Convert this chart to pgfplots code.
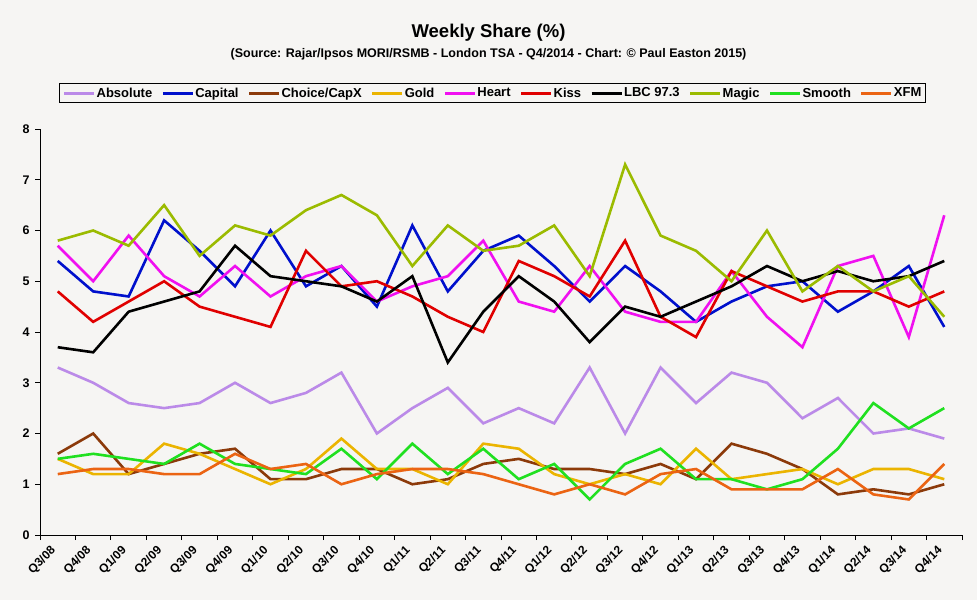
\documentclass[border=0pt]{standalone}
\usepackage{pgfplots}
\pgfplotsset{compat=1.18}
\usepackage{pgfplotstable}
\usepackage{fontspec}
\setmainfont{Liberation Sans}
\definecolor{bg}{HTML}{F6F5F3}
\definecolor{cAbs}{HTML}{BB8AE8}
\definecolor{cCap}{HTML}{0010CC}
\definecolor{cCho}{HTML}{8C3A0A}
\definecolor{cGold}{HTML}{EBB400}
\definecolor{cHeart}{HTML}{F010F0}
\definecolor{cKiss}{HTML}{E00000}
\definecolor{cLBC}{HTML}{000000}
\definecolor{cMagic}{HTML}{9BBB00}
\definecolor{cSmooth}{HTML}{20E020}
\definecolor{cXFM}{HTML}{EB6413}
\pgfplotstableread{
i Abs Cap Cho Gold Heart Kiss LBC Magic Smooth XFM
0 3.3 5.4 1.6 1.5 5.7 4.8 3.7 5.8 1.5 1.2
1 3.0 4.8 2.0 1.2 5.0 4.2 3.6 6.0 1.6 1.3
2 2.6 4.7 1.2 1.2 5.9 4.6 4.4 5.7 1.5 1.3
3 2.5 6.2 1.4 1.8 5.1 5.0 4.6 6.5 1.4 1.2
4 2.6 5.6 1.6 1.6 4.7 4.5 4.8 5.5 1.8 1.2
5 3.0 4.9 1.7 1.3 5.3 4.3 5.7 6.1 1.4 1.6
6 2.6 6.0 1.1 1.0 4.7 4.1 5.1 5.9 1.3 1.3
7 2.8 4.9 1.1 1.3 5.1 5.6 5.0 6.4 1.2 1.4
8 3.2 5.3 1.3 1.9 5.3 4.9 4.9 6.7 1.7 1.0
9 2.0 4.5 1.3 1.3 4.6 5.0 4.6 6.3 1.1 1.2
10 2.5 6.1 1.0 1.3 4.9 4.7 5.1 5.3 1.8 1.3
11 2.9 4.8 1.1 1.0 5.1 4.3 3.4 6.1 1.2 1.3
12 2.2 5.6 1.4 1.8 5.8 4.0 4.4 5.6 1.7 1.2
13 2.5 5.9 1.5 1.7 4.6 5.4 5.1 5.7 1.1 1.0
14 2.2 5.3 1.3 1.2 4.4 5.1 4.6 6.1 1.4 0.8
15 3.3 4.6 1.3 1.0 5.3 4.7 3.8 5.1 0.7 1.0
16 2.0 5.3 1.2 1.2 4.4 5.8 4.5 7.3 1.4 0.8
17 3.3 4.8 1.4 1.0 4.2 4.3 4.3 5.9 1.7 1.2
18 2.6 4.2 1.1 1.7 4.2 3.9 4.6 5.6 1.1 1.3
19 3.2 4.6 1.8 1.1 5.2 5.2 4.9 5.0 1.1 0.9
20 3.0 4.9 1.6 1.2 4.3 4.9 5.3 6.0 0.9 0.9
21 2.3 5.0 1.3 1.3 3.7 4.6 5.0 4.8 1.1 0.9
22 2.7 4.4 0.8 1.0 5.3 4.8 5.2 5.3 1.7 1.3
23 2.0 4.8 0.9 1.3 5.5 4.8 5.0 4.8 2.6 0.8
24 2.1 5.3 0.8 1.3 3.9 4.5 5.1 5.1 2.1 0.7
25 1.9 4.1 1.0 1.1 6.3 4.8 5.4 4.3 2.5 1.4
}\data
\begin{document}
\begin{tikzpicture}[x=1pt,y=1pt]
\path[use as bounding box, fill=bg] (0,0) rectangle (977,600);
\node[font=\bfseries\fontsize{18.5}{20}\selectfont] at (488.5,567) {Weekly Share (\%)};
\node[font=\bfseries\fontsize{12.5}{14}\selectfont] at (488.5,546) {(Source: Rajar/Ipsos MORI/RSMB - London TSA - Q4/2014 - Chart: © Paul Easton 2015)};
\begin{axis}[
  at={(40pt,65pt)}, anchor=south west,
  width=922pt, height=406pt, scale only axis,
  xmin=-0.5, xmax=25.5, ymin=0, ymax=8,
  axis lines=left, axis line style={-, line width=1pt},
  ytick={0,1,...,8},
  xtick={0,1,...,25},
  xticklabels={Q3/08,Q4/08,Q1/09,Q2/09,Q3/09,Q4/09,Q1/10,Q2/10,Q3/10,Q4/10,Q1/11,Q2/11,Q3/11,Q4/11,Q1/12,Q2/12,Q3/12,Q4/12,Q1/13,Q2/13,Q3/13,Q4/13,Q1/14,Q2/14,Q3/14,Q4/14},
  minor xtick={-0.5,0.5,...,25.5},
  every major x tick/.style={draw=none},
  tick align=outside,
  major tick length=5pt, minor tick length=5pt,
  tick style={line width=1pt, black},
  /pgf/number format/assume math mode=true,
  ticklabel style={font=\bfseries\fontsize{12.5}{14}\selectfont},
  xticklabel style={font=\bfseries\fontsize{12}{14}\selectfont, rotate=45, anchor=east, xshift=-8pt, yshift=-3.5pt, inner sep=1pt},
  yticklabel style={xshift=-2pt},
  legend columns=10,
  legend style={at={(axis description cs:0.4908,1.0885)}, anchor=center,
    draw=black, line width=1pt, fill=bg, font=\bfseries\fontsize{13}{15}\selectfont,
    inner ysep=2pt, inner xsep=3pt,
    /tikz/every even column/.append style={column sep=8pt},
    nodes={inner xsep=1pt, inner ysep=2pt}},
  legend image code/.code={\draw[#1, line width=3pt] (0pt,0pt) -- (30pt,0pt);},
  every axis plot/.append style={line width=2.6pt, line join=miter, mark=none},
  clip=false,
]
\addplot[cAbs] table[x=i,y=Abs]{\data};
\addlegendentry{Absolute}
\addplot[cCap] table[x=i,y=Cap]{\data};
\addlegendentry{Capital}
\addplot[cCho] table[x=i,y=Cho]{\data};
\addlegendentry{Choice/CapX}
\addplot[cGold] table[x=i,y=Gold]{\data};
\addlegendentry{Gold}
\addplot[cHeart] table[x=i,y=Heart]{\data};
\addlegendentry{Heart}
\addplot[cKiss] table[x=i,y=Kiss]{\data};
\addlegendentry{Kiss}
\addplot[cLBC] table[x=i,y=LBC]{\data};
\addlegendentry{LBC 97.3}
\addplot[cMagic] table[x=i,y=Magic]{\data};
\addlegendentry{Magic}
\addplot[cSmooth] table[x=i,y=Smooth]{\data};
\addlegendentry{Smooth}
\addplot[cXFM] table[x=i,y=XFM]{\data};
\addlegendentry{XFM}
\end{axis}
\end{tikzpicture}
\end{document}
